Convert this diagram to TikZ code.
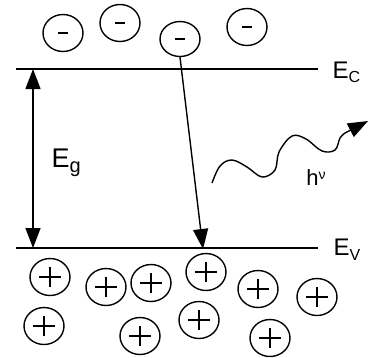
\documentclass[tikz,border=0pt]{standalone}
\usepackage{fontspec}
\setmainfont{Liberation Sans}
\usetikzlibrary{arrows.meta,shapes.geometric}
\begin{document}
\begin{tikzpicture}[x=1pt,y=-1pt,line width=1.4pt,
  carrier/.style={draw,ellipse,inner sep=0pt,minimum width=40pt,minimum height=37pt},
  elec/.style={carrier,path picture={\draw[line width=1.6pt]
      ([xshift=-5pt]path picture bounding box.center) -- ([xshift=5pt]path picture bounding box.center);}},
  hole/.style={carrier,path picture={\draw[line width=1.6pt]
      ([xshift=-11pt]path picture bounding box.center) -- ([xshift=11pt]path picture bounding box.center)
      ([yshift=-10pt]path picture bounding box.center) -- ([yshift=10pt]path picture bounding box.center);}},
  level/.style={line width=1.6pt},
  lbl/.style={inner sep=0pt,font=\fontsize{24}{26}\selectfont},
  tip/.style={-{Triangle[width=15pt,length=20pt]}},
  dtip/.style={{Triangle[width=15pt,length=20pt]}-{Triangle[width=15pt,length=20pt]}}]
\useasboundingbox (0,0) rectangle (369,357);
% levels
\coordinate (ecL) at (16,69);  \coordinate (ecR) at (318,69);
\coordinate (evL) at (16,248); \coordinate (evR) at (318,248);
\draw[level] (ecL) -- (ecR);
\draw[level] (evL) -- (evR);
\node[lbl,anchor=west] (ec) at (332,72) {E\raisebox{-0.3ex}{\fontsize{16}{17}\selectfont C}};
\node[lbl,anchor=west] (ev) at (333,250) {E\raisebox{-0.4ex}{\fontsize{16}{17}\selectfont V}};
% gap arrow
\coordinate (gt) at (33,69); \coordinate (gb) at (33,248);
\draw[dtip] (gt) -- (gb);
\node[lbl,anchor=west,font=\fontsize{27}{28}\selectfont] (eg) at (51,163) {E\raisebox{-0.35ex}{\fontsize{20}{21}\selectfont g}};
% electrons
\node[elec] (e1) at (63,33) {};
\node[elec] (e2) at (120,23) {};
\node[elec,minimum height=35pt] (e3) at (180,39) {};
\node[elec] (e4) at (247,27) {};
% holes
\node[hole] (h1) at (50,277) {};
\node[hole] (h2) at (106,287) {};
\node[hole] (h3) at (151,283) {};
\node[hole] (h4) at (206,272) {};
\node[hole] (h5) at (258,289) {};
\node[hole] (h6) at (317,297) {};
\node[hole] (h7) at (44,326) {};
\node[hole] (h8) at (140,336) {};
\node[hole] (h9) at (199,320) {};
\node[hole] (h10) at (270,338) {};
% transition
\coordinate (land) at (203,249);
\draw[tip] (e3.south) -- (land);
% photon
\coordinate (ph0) at (212,183);
\coordinate (ph1) at (368,121);
\draw[-{Triangle[width=15pt,length=20pt]}] plot[smooth,tension=0.6] coordinates
  {(212,183) (220,166) (232,160) (247,167) (262,177) (275,170) (279,152) (292,136) (306,139) (322,151) (335,150) (340,138) (345,133)} -- (ph1);
\node[inner sep=0pt,font=\fontsize{22}{24}\selectfont] (hv) at (316,178) {h\raisebox{0.6ex}{\fontsize{14}{15}\selectfont ν}};
\end{tikzpicture}
\end{document}
